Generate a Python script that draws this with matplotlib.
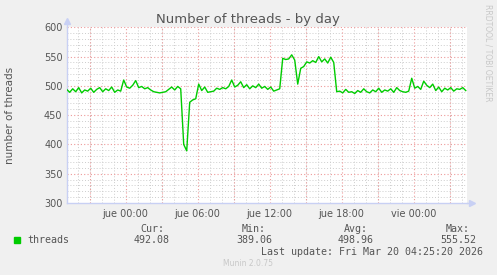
import matplotlib
matplotlib.use("Agg")
import matplotlib.pyplot as plt
import numpy as np
from matplotlib.ticker import MultipleLocator

# samples every 15 min, hours relative to jue 00:00
t_start = -4.91
t_step = 0.25
threads = [
    494, 489, 495, 490, 497, 488, 493, 491, 496, 489,
    494, 497, 490, 495, 492, 498, 489, 493, 491, 510,
    498, 496, 501, 509, 497, 499, 495, 497, 493, 490,
    489, 488, 489, 490, 494, 498, 493, 499, 495, 400,
    389, 472, 476, 478, 503, 492, 498, 489, 490, 491,
    496, 494, 497, 495, 499, 510, 498, 501, 507, 497,
    502, 495, 500, 497, 503, 496, 499, 494, 498, 491,
    493, 495, 547, 545, 546, 553, 544, 503, 530, 533,
    541, 539, 543, 540, 550, 541, 546, 539, 549, 540,
    490, 491, 488, 494, 489, 490, 487, 492, 489, 495,
    490, 488, 493, 490, 496, 489, 493, 491, 495, 489,
    497, 492, 490, 489, 491, 513, 496, 499, 494, 508,
    501, 497, 503, 492, 498, 490, 496, 493, 497, 491,
    495, 494, 497, 492,
]
x_ticks = [0, 6, 12, 18, 24]
x_labels = ["jue 00:00", "jue 06:00", "jue 12:00", "jue 18:00", "vie 00:00"]
stats_labels = ["Cur:", "Min:", "Avg:", "Max:"]
stats_values = ["492.08", "389.06", "498.96", "555.52"]
stats_x = [152, 254, 356, 458]

W, H = 497, 275
BG = "#F0F0F0"
LINE = "#00CC00"
AXIS = "#C8D0F4"
TXT = "#555555"
RED = "#EE9A9A"
DOT = (0, (1, 2))

fig = plt.figure(figsize=(W / 100, H / 100), dpi=100, facecolor=BG)
ax = fig.add_axes([66.7 / W, 1 - 203 / H, 400 / W, 175.7 / H])
ax.set_facecolor("white")

t = t_start + t_step * np.arange(len(threads))
ax.plot(t, threads, color=LINE, lw=1.0, zorder=3)

ax.set_xlim(-4.91, 28.42)
ax.set_ylim(300, 600)

ax.xaxis.set_minor_locator(MultipleLocator(1))
ax.yaxis.set_major_locator(MultipleLocator(50))
ax.yaxis.set_minor_locator(MultipleLocator(10))
ax.grid(which="minor", color="#CDCDCD", ls=DOT, lw=0.7)
ax.set_axisbelow(True)

ax.set_xticks(x_ticks)
ax.set_xticklabels(x_labels)
# red major grid: every 3 hours and every 50 threads
for xv in range(-3, 29, 3):
    ax.axvline(xv, color=RED, ls=DOT, lw=0.8, zorder=1)
for yv in range(350, 601, 50):
    ax.axhline(yv, color=RED, ls=DOT, lw=0.8, zorder=1)

ax.tick_params(axis="both", which="both", length=0, colors=TXT, labelsize=7, pad=4)
ax.tick_params(axis="y", pad=3)

for s in ["top", "right"]:
    ax.spines[s].set_visible(False)
for s in ["left", "bottom"]:
    ax.spines[s].set_color(AXIS)
    ax.spines[s].set_linewidth(1.0)
ax.plot([0], [1.035], marker="^", ms=4, color=AXIS, transform=ax.transAxes, clip_on=False)
ax.plot([0, 0], [1.0, 1.03], color=AXIS, lw=1, transform=ax.transAxes, clip_on=False)
ax.plot([1.0, 1.012], [0, 0], color=AXIS, lw=1, transform=ax.transAxes, clip_on=False)
ax.plot([1.014], [0], marker=">", ms=4, color=AXIS, transform=ax.transAxes, clip_on=False)

ax.set_ylabel("number of threads", fontsize=7.5, color=TXT)
ax.yaxis.set_label_coords(-0.128, 0.5)


def fx(px):
    return px / W


def fy(py):
    return 1 - py / H


fig.text(fx(248), fy(19), "Number of threads - by day", ha="center", va="center",
         fontsize=9.5, color=TXT)
fig.text(fx(488), fy(53), "RRDTOOL / TOBI OETIKER", ha="center", va="center",
         rotation=270, fontsize=5.5, color="#C8C8C8")

mono = "DejaVu Sans Mono"
fig.patches.append(plt.Rectangle((fx(14), fy(243)), 6 / W, 6 / H, color=LINE,
                                 transform=fig.transFigure))
fig.text(fx(27), fy(240), "threads", ha="left", va="center", family=mono,
         fontsize=7.2, color=TXT)
for lab, val, xc in zip(stats_labels, stats_values, stats_x):
    fig.text(fx(xc), fy(228.5), lab, ha="center", va="center", family=mono,
             fontsize=7.2, color=TXT)
    fig.text(fx(xc), fy(240), val, ha="center", va="center", family=mono,
             fontsize=7.2, color=TXT)
fig.text(fx(483), fy(252), "Last update: Fri Mar 20 04:25:20 2026", ha="right",
         va="center", family=mono, fontsize=7.2, color=TXT)
fig.text(fx(248), fy(264), "Munin 2.0.75", ha="center", va="center",
         fontsize=5.5, color="#C8C8C8")

fig.savefig("out.png", dpi=100, facecolor=BG)
